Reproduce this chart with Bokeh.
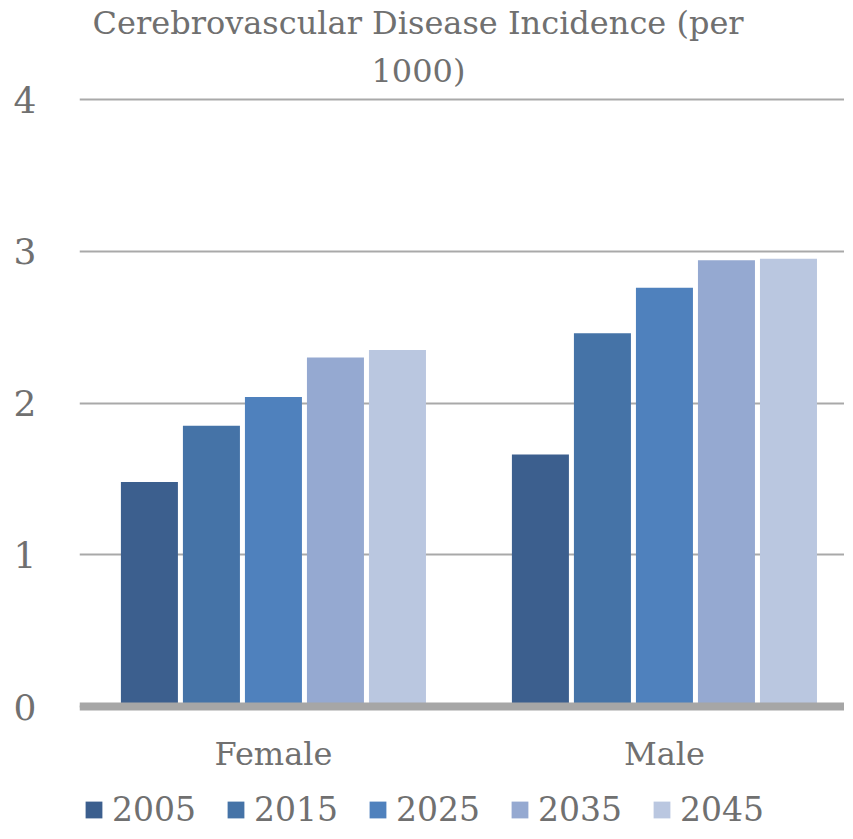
from bokeh.plotting import figure
from bokeh.models import (Range1d, FixedTicker, Span, Legend, LegendItem, Title, ColumnDataSource)
from bokeh.embed import file_html
from bokeh.resources import INLINE

categories = ["Female", "Male"]
years = ["2005", "2015", "2025", "2035", "2045"]
values_2005 = [1.48, 1.66]
values_2015 = [1.85, 2.46]
values_2025 = [2.04, 2.76]
values_2035 = [2.30, 2.94]
values_2045 = [2.35, 2.95]
series = [values_2005, values_2015, values_2025, values_2035, values_2045]
colors = ["#3C5F8E", "#4573A7", "#4F81BD", "#95A9D1", "#BAC7E0"]
y_ticks = [0, 1, 2, 3, 4]

FONT = "DejaVu Serif"
GREY = "#707070"

p = figure(frame_width=765, frame_height=733, output_backend="svg", toolbar_location=None,
           x_range=Range1d(-0.496, 1.4605), y_range=Range1d(-0.8105, 4.0198),
           min_border_left=79, min_border_right=0, min_border_top=0, min_border_bottom=0)
p.outline_line_color = None
p.title.text = ""

p.add_layout(Title(text="1000)", align="left", offset=292, text_font=FONT, text_font_size="32px",
                   text_font_style="normal", text_color=GREY, standoff=13), "above")
p.add_layout(Title(text="Cerebrovascular Disease Incidence (per", align="left", offset=13, text_font=FONT,
                   text_font_size="32px", text_font_style="normal", text_color=GREY, standoff=3), "above")

pitch = 0.1586
bar_w = 0.1458
items = []
for i, (yr, vals, col) in enumerate(zip(years, series, colors)):
    xs = [k + (i - 2) * pitch for k in range(len(categories))]
    src = ColumnDataSource(dict(x=xs, top=vals))
    r = p.vbar(x="x", top="top", bottom=0, width=bar_w, source=src, fill_color=col, line_color=None)
    items.append(LegendItem(label=yr, renderers=[r]))

p.add_layout(Span(location=0, dimension="width", line_color="#a6a6a6", line_width=8))

p.xgrid.visible = False
p.ygrid.ticker = FixedTicker(ticks=y_ticks)
p.ygrid.grid_line_color = "#a9a9a9"
p.ygrid.grid_line_width = 2

p.yaxis.ticker = FixedTicker(ticks=y_ticks)
p.yaxis.axis_line_color = None
p.yaxis.major_tick_line_color = None
p.yaxis.minor_tick_line_color = None
p.yaxis.major_label_standoff = 37
p.yaxis.major_label_text_font = FONT
p.yaxis.major_label_text_font_size = "36px"
p.yaxis.major_label_text_color = GREY

p.xaxis.fixed_location = 0
p.xaxis.ticker = FixedTicker(ticks=list(range(len(categories))))
p.xaxis.major_label_overrides = {i: c for i, c in enumerate(categories)}
p.xaxis.axis_line_color = None
p.xaxis.major_tick_line_color = None
p.xaxis.minor_tick_line_color = None
p.xaxis.major_label_standoff = 22
p.xaxis.major_label_text_font = FONT
p.xaxis.major_label_text_font_size = "32px"
p.xaxis.major_label_text_color = GREY

legend = Legend(items=items, orientation="horizontal", location=(4, 0),
                border_line_color=None, background_fill_alpha=0,
                label_text_font=FONT, label_text_font_size="33px", label_text_color=GREY,
                glyph_width=21, glyph_height=21, label_standoff=8, spacing=29,
                padding=0, margin=0)
p.add_layout(legend)

open("out.html", "w").write(file_html(p, INLINE))
